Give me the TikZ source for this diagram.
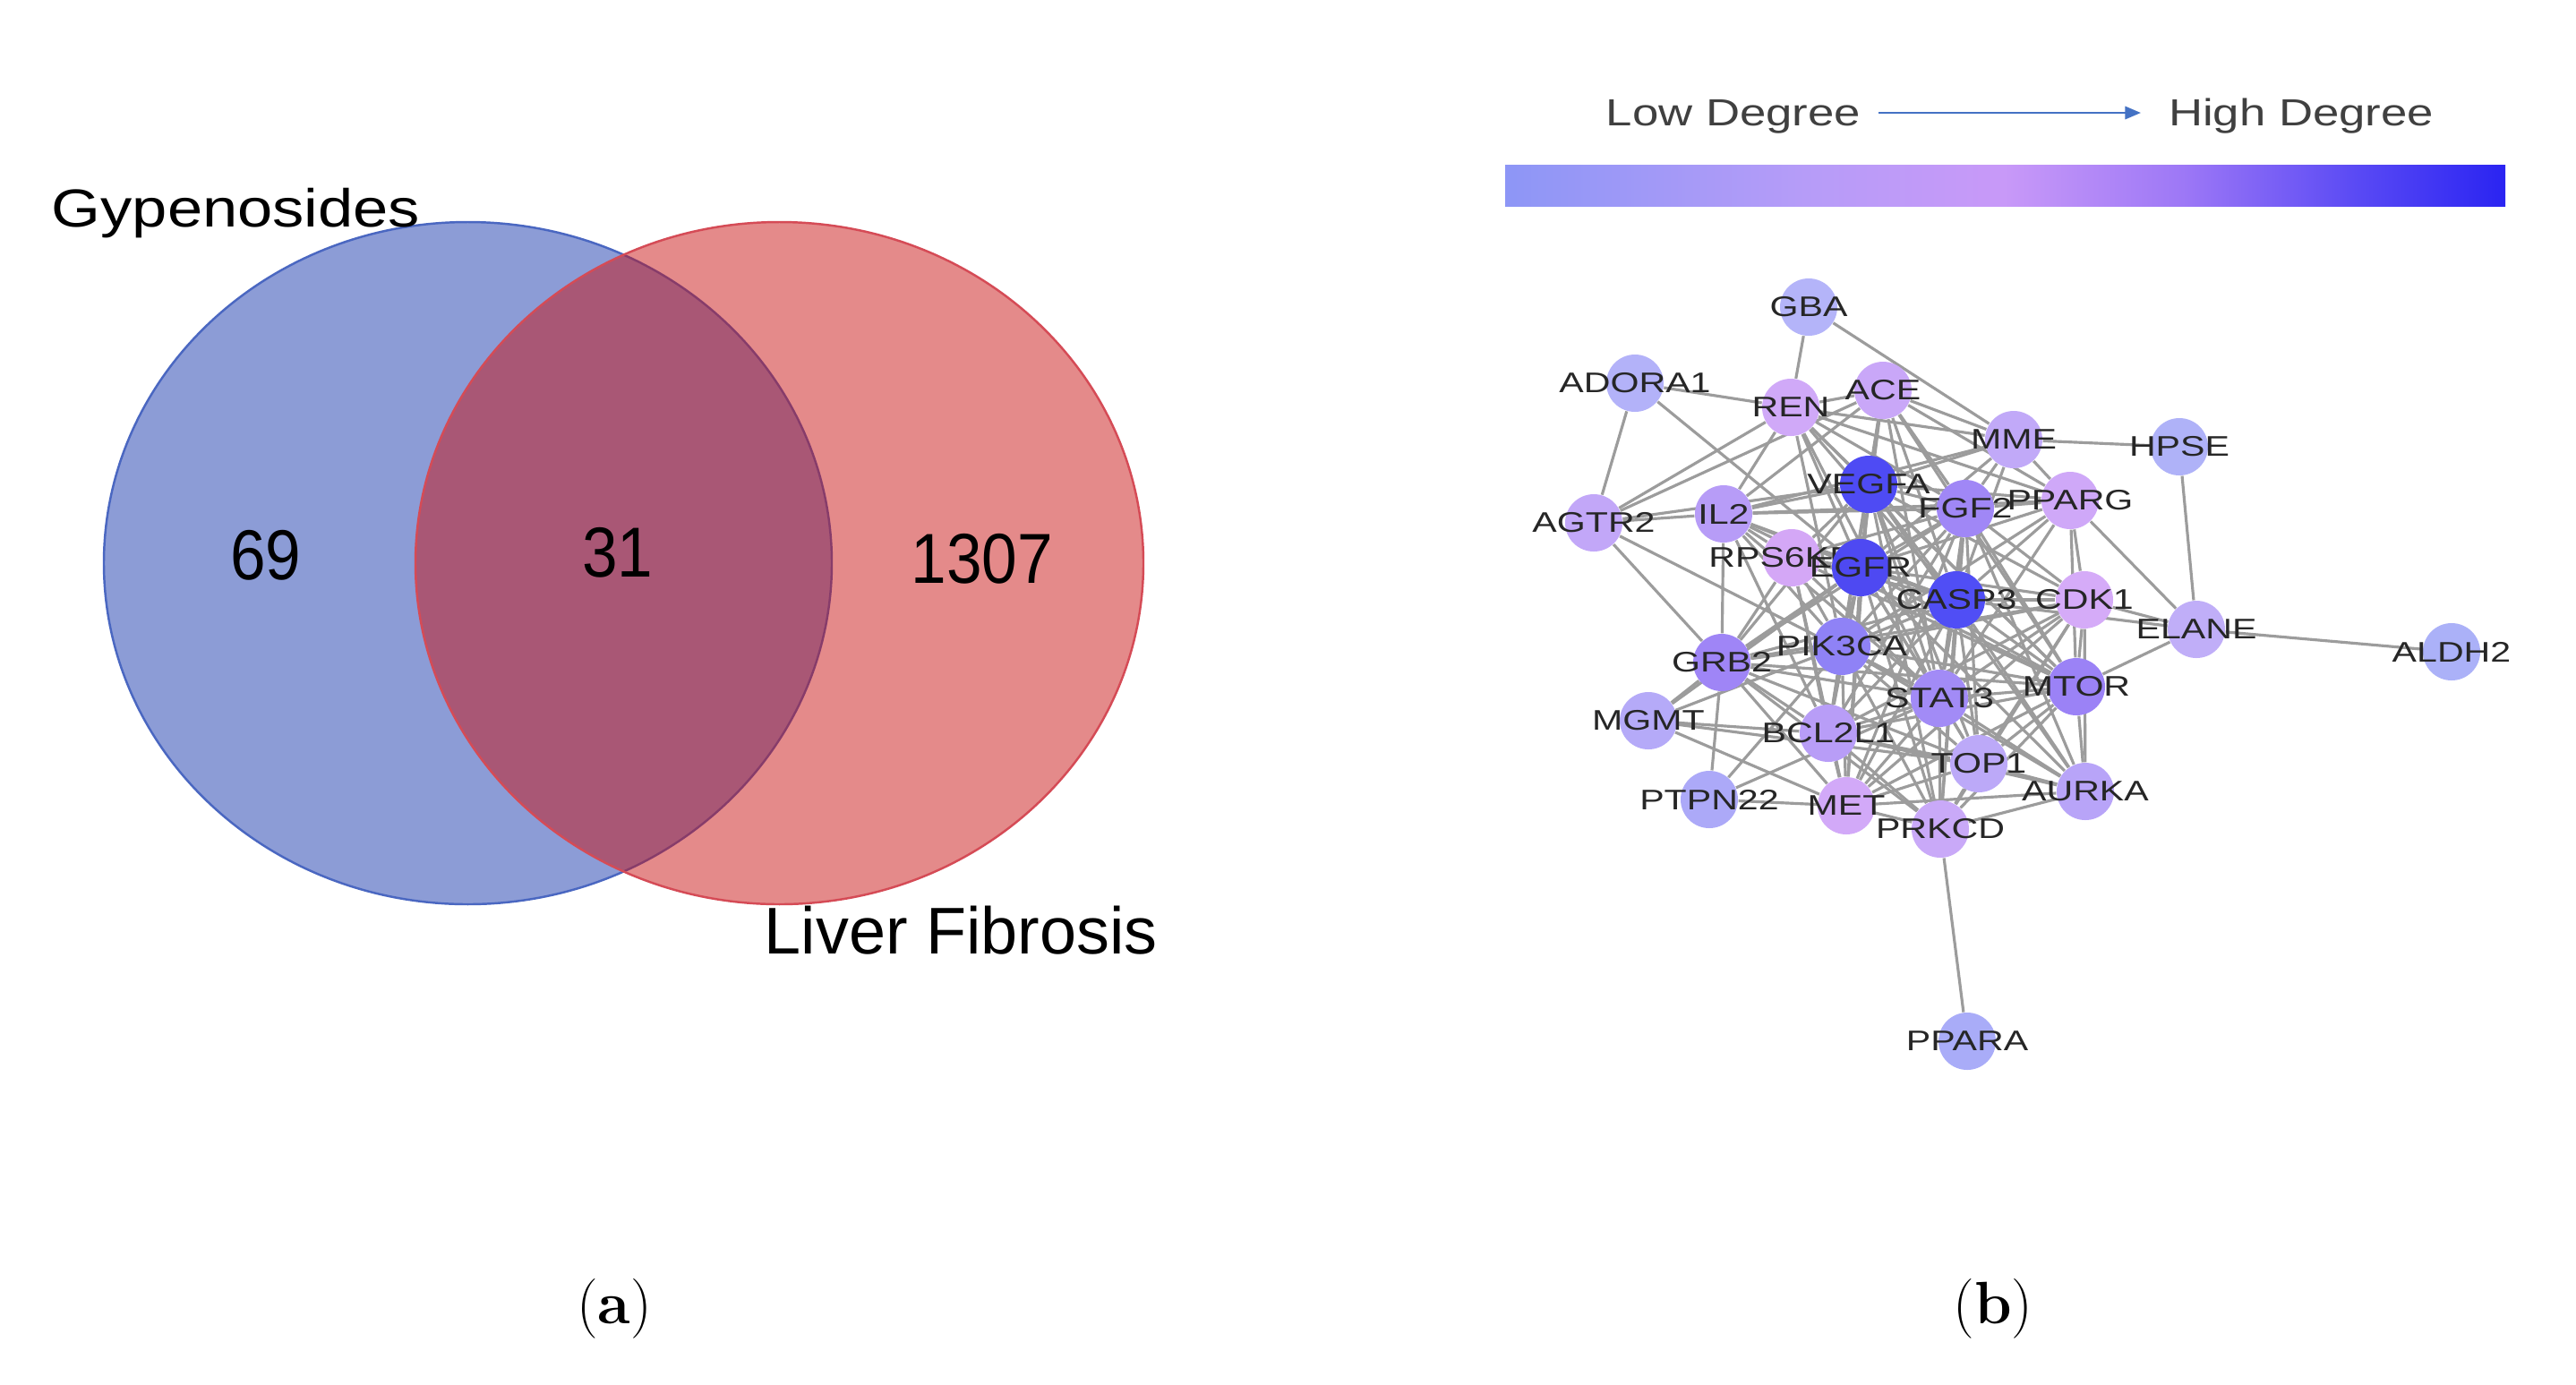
\documentclass[tikz,border=0pt]{standalone}
\usepackage{fontspec}
\newfontfamily\arial{Liberation Sans}
\usetikzlibrary{arrows.meta}
\pgfdeclarelayer{paper}
\pgfdeclarelayer{background}
\pgfsetlayers{paper,background,main}
\definecolor{vblue}{HTML}{8C9CD6}
\definecolor{vblueb}{HTML}{4A67C1}
\definecolor{vred}{RGB}{200,17,17}
\definecolor{vredb}{HTML}{D54B56}
\definecolor{edgegray}{HTML}{9C9C9C}
\definecolor{legblue}{HTML}{4472C4}
\definecolor{bar0}{HTML}{8D96F6}
\definecolor{bar1}{HTML}{B69CF8}
\definecolor{bar2}{HTML}{C899F8}
\definecolor{bar3}{HTML}{9C77F6}
\definecolor{bar4}{HTML}{5A4AF4}
\definecolor{bar5}{HTML}{2A24F2}
\newcommand{\glab}[1]{\makebox[0pt]{\scalebox{1.3}[1]{\arial\fontsize{9}{10}\selectfont #1}}}
\newcommand{\gnode}[4]{\definecolor{c#1}{HTML}{#4}\node[gn,fill=c#1] (#1) at (#2,#3) {\glab{#1}};}
\begin{document}
\begin{tikzpicture}[
  gn/.style={circle,minimum size=0.64cm,inner sep=0pt,draw=none,text=black!85},
  edge/.style={draw=edgegray,line width=0.9pt},
  vnum/.style={font=\arial\fontsize{22.5}{24}\selectfont,inner sep=0pt},
  vlab/.style={inner sep=0pt},
  leg/.style={font=\arial\fontsize{12}{14}\selectfont,text=black!75,inner sep=0pt},
  legarrow/.style={draw=legblue,line width=0.8pt,-{Triangle[length=5pt,width=4pt]}},
  panel/.style={font=\fontsize{19}{21}\selectfont,inner sep=0pt}
]
\begin{pgfonlayer}{paper}
\useasboundingbox[fill=white] (0,0) rectangle (28.77,-15.46);
\end{pgfonlayer}

% ---------------- Venn (a)
\fill[vblue] (5.225,-6.29) ellipse [x radius=4.065, y radius=3.81];
\draw[vblueb,line width=0.7pt] (5.225,-6.29) ellipse [x radius=4.065, y radius=3.81];
\fill[vred,fill opacity=0.49] (8.705,-6.29) ellipse [x radius=4.065, y radius=3.81];
\draw[vredb,line width=0.7pt] (8.705,-6.29) ellipse [x radius=4.065, y radius=3.81];

\node[vlab,anchor=base west] (gyp) at (0.57,-2.53) {\scalebox{1.18}[1]{\arial\fontsize{17}{20}\selectfont Gypenosides}};
\node[vlab,anchor=base west] (lf) at (8.53,-10.65) {\arial\fontsize{21}{24}\selectfont Liver Fibrosis};
\node[vnum] (n69) at (2.97,-6.20) {\scalebox{0.9}[1]{69}};
\node[vnum] (n31) at (6.90,-6.17) {\scalebox{0.9}[1]{31}};
\node[vnum] (n1307) at (10.97,-6.24) {\scalebox{0.9}[1]{1307}};

\node[panel] (pa) at (6.86,-14.62) {(\textbf{a})};
\node[panel] (pb) at (22.26,-14.62) {(\textbf{b})};

% ---------------- legend (b)
\node[leg,anchor=base] (low) at (19.36,-1.40) {\scalebox{1.25}[1]{Low Degree}};
\node[leg,anchor=base] (high) at (25.70,-1.40) {\scalebox{1.25}[1]{High Degree}};
\coordinate (arrS) at (20.98,-1.26);
\coordinate (arrE) at (23.91,-1.26);
\draw[legarrow] (arrS) -- (arrE);

\shade[left color=bar0,right color=bar1] (16.81,-1.84) rectangle (20.17,-2.30);
\shade[left color=bar1,right color=bar2] (20.16,-1.84) rectangle (22.40,-2.30);
\shade[left color=bar2,right color=bar3] (22.39,-1.84) rectangle (24.42,-2.30);
\shade[left color=bar3,right color=bar4] (24.41,-1.84) rectangle (26.31,-2.30);
\shade[left color=bar4,right color=bar5] (26.30,-1.84) rectangle (27.98,-2.30);

% ---------------- network nodes
\gnode{GBA}{20.20}{-3.43}{B4B4F9}
\gnode{ADORA1}{18.26}{-4.28}{B3B2F9}
\gnode{AGTR2}{17.80}{-5.84}{C2A7F8}
\gnode{REN}{20.00}{-4.55}{D0A9F8}
\gnode{ACE}{21.03}{-4.36}{C9A7F8}
\gnode{MME}{22.49}{-4.91}{C1A9F8}
\gnode{HPSE}{24.34}{-4.99}{AFB2F8}
\gnode{PPARG}{23.12}{-5.59}{CFA8F8}
\gnode{IL2}{19.25}{-5.74}{B79CF7}
\gnode{VEGFA}{20.87}{-5.41}{4E4BF4}
\gnode{FGF2}{21.95}{-5.68}{A087F6}
\gnode{RPS6KB1}{20.01}{-6.23}{D4A7F6}
\gnode{EGFR}{20.78}{-6.34}{4E49F2}
\gnode{CASP3}{21.85}{-6.70}{504EF5}
\gnode{CDK1}{23.28}{-6.70}{D5ABF8}
\gnode{ELANE}{24.53}{-7.03}{C0AEF8}
\gnode{ALDH2}{27.38}{-7.28}{ABB1F8}
\gnode{GRB2}{19.23}{-7.40}{9F85F6}
\gnode{PIK3CA}{20.57}{-7.22}{8F82F6}
\gnode{STAT3}{21.66}{-7.80}{A28BF6}
\gnode{MTOR}{23.19}{-7.67}{9B82F6}
\gnode{MGMT}{18.41}{-8.05}{B5AAF8}
\gnode{BCL2L1}{20.42}{-8.19}{B89DF7}
\gnode{TOP1}{22.10}{-8.53}{BCA9F8}
\gnode{AURKA}{23.29}{-8.84}{B8A4F8}
\gnode{PTPN22}{19.09}{-8.93}{ACA9F8}
\gnode{MET}{20.62}{-9.00}{D2A9F8}
\gnode{PRKCD}{21.67}{-9.26}{C9A9F8}
\gnode{PPARA}{21.97}{-11.63}{A9ACF8}

% ---------------- network edges
\begin{pgfonlayer}{background}
\foreach \a in {VEGFA,EGFR,CASP3}
  \foreach \b in {REN,ACE,MME,PPARG,FGF2,IL2,RPS6KB1,CDK1,GRB2,PIK3CA,STAT3,MTOR,BCL2L1,TOP1,AURKA,MET,PRKCD}
    \draw[edge] (\a) -- (\b);
\foreach \a/\b in {VEGFA/EGFR,VEGFA/CASP3,EGFR/CASP3,PIK3CA/STAT3,PIK3CA/MTOR,STAT3/MTOR}
  \draw[edge] (\a) -- (\b);
\foreach \a in {PIK3CA,STAT3,MTOR}
  \foreach \b in {ACE,REN,PPARG,FGF2,IL2,RPS6KB1,CDK1,GRB2,BCL2L1,TOP1,AURKA,MET,PRKCD}
    \draw[edge] (\a) -- (\b);
\foreach \a/\b in {GBA/REN,GBA/MME,
  ADORA1/REN,ADORA1/AGTR2,ADORA1/EGFR,
  AGTR2/REN,AGTR2/ACE,AGTR2/IL2,AGTR2/VEGFA,AGTR2/GRB2,AGTR2/STAT3,
  REN/ACE,REN/IL2,REN/MME,REN/FGF2,REN/PPARG,
  ACE/MME,ACE/FGF2,ACE/PPARG,ACE/IL2,
  MME/HPSE,MME/FGF2,MME/PPARG,MME/IL2,
  HPSE/ELANE,
  PPARG/FGF2,PPARG/CDK1,PPARG/ELANE,PPARG/IL2,
  FGF2/IL2,FGF2/RPS6KB1,FGF2/GRB2,FGF2/BCL2L1,FGF2/CDK1,FGF2/TOP1,FGF2/MET,FGF2/PRKCD,FGF2/AURKA,
  IL2/RPS6KB1,IL2/BCL2L1,IL2/GRB2,
  RPS6KB1/GRB2,RPS6KB1/BCL2L1,RPS6KB1/MET,
  CDK1/ELANE,CDK1/AURKA,CDK1/TOP1,CDK1/BCL2L1,CDK1/PRKCD,CDK1/MET,CDK1/GRB2,
  ELANE/ALDH2,ELANE/MTOR,ELANE/CASP3,
  GRB2/BCL2L1,GRB2/MET,GRB2/PTPN22,GRB2/MGMT,GRB2/PRKCD,GRB2/TOP1,
  MGMT/BCL2L1,MGMT/TOP1,MGMT/MET,MGMT/PIK3CA,MGMT/EGFR,
  BCL2L1/MET,BCL2L1/PRKCD,BCL2L1/TOP1,BCL2L1/AURKA,
  TOP1/PRKCD,TOP1/AURKA,TOP1/MET,
  PTPN22/MET,PTPN22/PIK3CA,PTPN22/STAT3,
  MET/PRKCD,MET/AURKA,
  PRKCD/PPARA,PRKCD/AURKA}
  \draw[edge] (\a) -- (\b);
\end{pgfonlayer}
\end{tikzpicture}
\end{document}
